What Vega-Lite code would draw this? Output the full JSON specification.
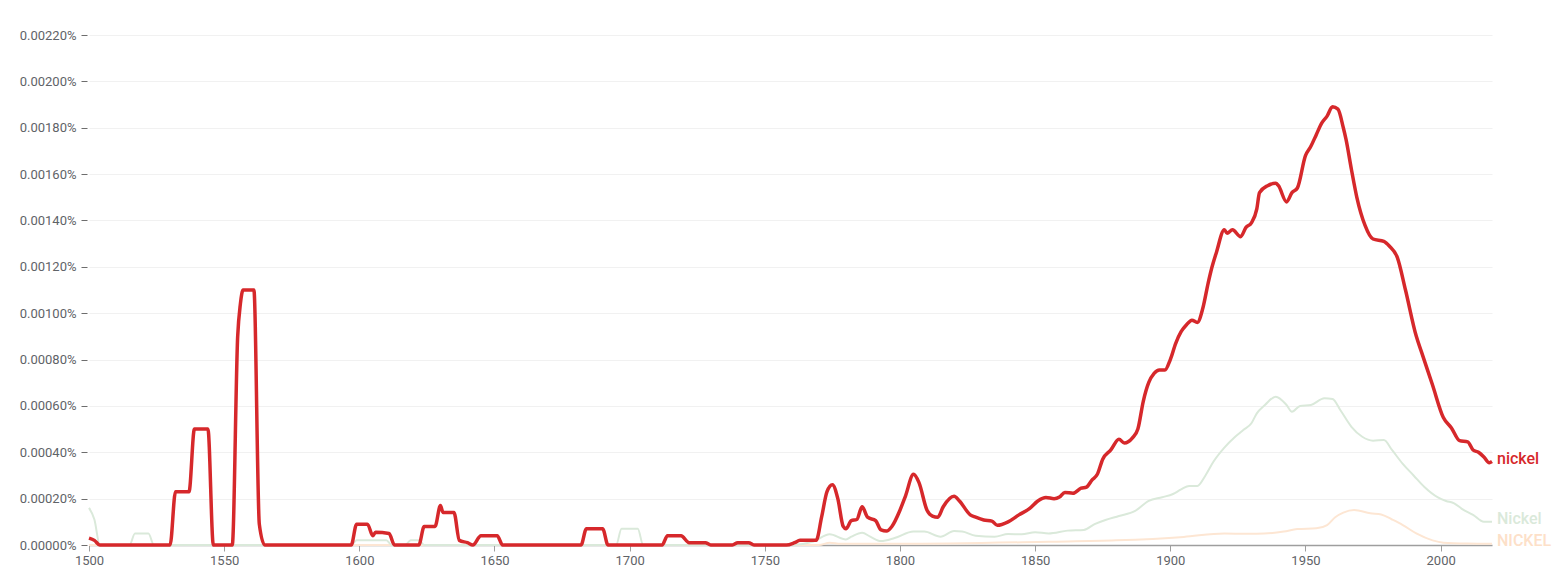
{
  "$schema": "https://vega.github.io/schema/vega-lite/v6.json",
  "width": 1403,
  "height": 510,
  "autosize": {"type": "none"},
  "padding": {"left": 89, "top": 35, "right": 72, "bottom": 28},
  "background": "white",
  "config": {
    "view": {"stroke": null},
    "font": "Roboto",
    "axis": {"labelFont": "Roboto", "labelColor": "#5f6368", "labelFontSize": 13}
  },
  "datasets": {
    "ngram": [
      {"year": 1500, "series": "nickel", "v": 0.00003},
      {"year": 1502, "series": "nickel", "v": 0.00002},
      {"year": 1504, "series": "nickel", "v": 0},
      {"year": 1530, "series": "nickel", "v": 0},
      {"year": 1532, "series": "nickel", "v": 0.00023},
      {"year": 1537, "series": "nickel", "v": 0.00023},
      {"year": 1539, "series": "nickel", "v": 0.0005},
      {"year": 1544, "series": "nickel", "v": 0.0005},
      {"year": 1546, "series": "nickel", "v": 0},
      {"year": 1553, "series": "nickel", "v": 0},
      {"year": 1555, "series": "nickel", "v": 0.0009},
      {"year": 1556, "series": "nickel", "v": 0.00104},
      {"year": 1557, "series": "nickel", "v": 0.0011},
      {"year": 1561, "series": "nickel", "v": 0.0011},
      {"year": 1563, "series": "nickel", "v": 0.00009},
      {"year": 1565, "series": "nickel", "v": 0},
      {"year": 1597, "series": "nickel", "v": 0},
      {"year": 1599, "series": "nickel", "v": 0.00009},
      {"year": 1603, "series": "nickel", "v": 0.00009},
      {"year": 1605, "series": "nickel", "v": 0.00004},
      {"year": 1606, "series": "nickel", "v": 0.000055},
      {"year": 1611, "series": "nickel", "v": 0.00005},
      {"year": 1613, "series": "nickel", "v": 0},
      {"year": 1622, "series": "nickel", "v": 0},
      {"year": 1624, "series": "nickel", "v": 0.00008},
      {"year": 1628, "series": "nickel", "v": 0.00008},
      {"year": 1630, "series": "nickel", "v": 0.00017},
      {"year": 1631, "series": "nickel", "v": 0.00014},
      {"year": 1633, "series": "nickel", "v": 0.00014},
      {"year": 1635, "series": "nickel", "v": 0.00014},
      {"year": 1637, "series": "nickel", "v": 0.00002},
      {"year": 1640, "series": "nickel", "v": 0.00001},
      {"year": 1642, "series": "nickel", "v": 0},
      {"year": 1645, "series": "nickel", "v": 0.00004},
      {"year": 1651, "series": "nickel", "v": 0.00004},
      {"year": 1653, "series": "nickel", "v": 0},
      {"year": 1682, "series": "nickel", "v": 0},
      {"year": 1684, "series": "nickel", "v": 0.00007},
      {"year": 1690, "series": "nickel", "v": 0.00007},
      {"year": 1692, "series": "nickel", "v": 0},
      {"year": 1712, "series": "nickel", "v": 0},
      {"year": 1714, "series": "nickel", "v": 0.00004},
      {"year": 1719, "series": "nickel", "v": 0.00004},
      {"year": 1722, "series": "nickel", "v": 0.00001},
      {"year": 1728, "series": "nickel", "v": 0.00001},
      {"year": 1730, "series": "nickel", "v": 0},
      {"year": 1738, "series": "nickel", "v": 0},
      {"year": 1740, "series": "nickel", "v": 0.00001},
      {"year": 1744, "series": "nickel", "v": 0.00001},
      {"year": 1746, "series": "nickel", "v": 0},
      {"year": 1758, "series": "nickel", "v": 0},
      {"year": 1761, "series": "nickel", "v": 0.00001},
      {"year": 1763, "series": "nickel", "v": 0.00002},
      {"year": 1769, "series": "nickel", "v": 0.00002},
      {"year": 1771, "series": "nickel", "v": 0.00012},
      {"year": 1773, "series": "nickel", "v": 0.00023},
      {"year": 1775, "series": "nickel", "v": 0.00026},
      {"year": 1777, "series": "nickel", "v": 0.0002},
      {"year": 1779, "series": "nickel", "v": 0.00008},
      {"year": 1780, "series": "nickel", "v": 0.00007},
      {"year": 1782, "series": "nickel", "v": 0.000105},
      {"year": 1784, "series": "nickel", "v": 0.00011},
      {"year": 1786, "series": "nickel", "v": 0.000165},
      {"year": 1788, "series": "nickel", "v": 0.00012},
      {"year": 1791, "series": "nickel", "v": 0.000105},
      {"year": 1793, "series": "nickel", "v": 0.000065},
      {"year": 1795, "series": "nickel", "v": 0.00006},
      {"year": 1797, "series": "nickel", "v": 0.00008},
      {"year": 1800, "series": "nickel", "v": 0.00015},
      {"year": 1802, "series": "nickel", "v": 0.00021},
      {"year": 1805, "series": "nickel", "v": 0.000305},
      {"year": 1807, "series": "nickel", "v": 0.00027},
      {"year": 1810, "series": "nickel", "v": 0.00015},
      {"year": 1812, "series": "nickel", "v": 0.000125},
      {"year": 1814, "series": "nickel", "v": 0.00012},
      {"year": 1816, "series": "nickel", "v": 0.000165},
      {"year": 1820, "series": "nickel", "v": 0.00021},
      {"year": 1822, "series": "nickel", "v": 0.00019},
      {"year": 1826, "series": "nickel", "v": 0.00013},
      {"year": 1828, "series": "nickel", "v": 0.00012},
      {"year": 1831, "series": "nickel", "v": 0.000108},
      {"year": 1834, "series": "nickel", "v": 0.000103},
      {"year": 1836, "series": "nickel", "v": 0.000085},
      {"year": 1840, "series": "nickel", "v": 0.0001},
      {"year": 1844, "series": "nickel", "v": 0.00013},
      {"year": 1848, "series": "nickel", "v": 0.000158},
      {"year": 1851, "series": "nickel", "v": 0.00019},
      {"year": 1854, "series": "nickel", "v": 0.000205},
      {"year": 1857, "series": "nickel", "v": 0.0002},
      {"year": 1859, "series": "nickel", "v": 0.000207},
      {"year": 1861, "series": "nickel", "v": 0.000227},
      {"year": 1864, "series": "nickel", "v": 0.000223},
      {"year": 1867, "series": "nickel", "v": 0.000245},
      {"year": 1869, "series": "nickel", "v": 0.00025},
      {"year": 1871, "series": "nickel", "v": 0.00028},
      {"year": 1873, "series": "nickel", "v": 0.000305},
      {"year": 1875, "series": "nickel", "v": 0.00037},
      {"year": 1878, "series": "nickel", "v": 0.00041},
      {"year": 1881, "series": "nickel", "v": 0.000456},
      {"year": 1883, "series": "nickel", "v": 0.00044},
      {"year": 1886, "series": "nickel", "v": 0.000462},
      {"year": 1888, "series": "nickel", "v": 0.0005},
      {"year": 1890, "series": "nickel", "v": 0.00062},
      {"year": 1892, "series": "nickel", "v": 0.0007},
      {"year": 1894, "series": "nickel", "v": 0.00074},
      {"year": 1896, "series": "nickel", "v": 0.000755},
      {"year": 1898, "series": "nickel", "v": 0.000755},
      {"year": 1900, "series": "nickel", "v": 0.0008},
      {"year": 1902, "series": "nickel", "v": 0.00087},
      {"year": 1904, "series": "nickel", "v": 0.00092},
      {"year": 1906, "series": "nickel", "v": 0.00095},
      {"year": 1908, "series": "nickel", "v": 0.00097},
      {"year": 1910, "series": "nickel", "v": 0.00096},
      {"year": 1912, "series": "nickel", "v": 0.00102},
      {"year": 1914, "series": "nickel", "v": 0.00113},
      {"year": 1915, "series": "nickel", "v": 0.00118},
      {"year": 1917, "series": "nickel", "v": 0.00126},
      {"year": 1920, "series": "nickel", "v": 0.00136},
      {"year": 1921, "series": "nickel", "v": 0.001345},
      {"year": 1923, "series": "nickel", "v": 0.00136},
      {"year": 1926, "series": "nickel", "v": 0.00133},
      {"year": 1928, "series": "nickel", "v": 0.00137},
      {"year": 1930, "series": "nickel", "v": 0.00139},
      {"year": 1932, "series": "nickel", "v": 0.00145},
      {"year": 1933, "series": "nickel", "v": 0.00152},
      {"year": 1936, "series": "nickel", "v": 0.00155},
      {"year": 1939, "series": "nickel", "v": 0.00156},
      {"year": 1940, "series": "nickel", "v": 0.00155},
      {"year": 1943, "series": "nickel", "v": 0.00148},
      {"year": 1945, "series": "nickel", "v": 0.00152},
      {"year": 1947, "series": "nickel", "v": 0.00154},
      {"year": 1950, "series": "nickel", "v": 0.00168},
      {"year": 1952, "series": "nickel", "v": 0.00172},
      {"year": 1954, "series": "nickel", "v": 0.00177},
      {"year": 1956, "series": "nickel", "v": 0.00182},
      {"year": 1958, "series": "nickel", "v": 0.00185},
      {"year": 1960, "series": "nickel", "v": 0.00189},
      {"year": 1962, "series": "nickel", "v": 0.00188},
      {"year": 1964, "series": "nickel", "v": 0.0018},
      {"year": 1965, "series": "nickel", "v": 0.00175},
      {"year": 1967, "series": "nickel", "v": 0.00162},
      {"year": 1969, "series": "nickel", "v": 0.0015},
      {"year": 1972, "series": "nickel", "v": 0.00138},
      {"year": 1975, "series": "nickel", "v": 0.00132},
      {"year": 1979, "series": "nickel", "v": 0.00131},
      {"year": 1981, "series": "nickel", "v": 0.00129},
      {"year": 1984, "series": "nickel", "v": 0.00124},
      {"year": 1987, "series": "nickel", "v": 0.0011},
      {"year": 1991, "series": "nickel", "v": 0.0009},
      {"year": 1993, "series": "nickel", "v": 0.00083},
      {"year": 1997, "series": "nickel", "v": 0.00069},
      {"year": 2001, "series": "nickel", "v": 0.00055},
      {"year": 2004, "series": "nickel", "v": 0.000505},
      {"year": 2007, "series": "nickel", "v": 0.00045},
      {"year": 2010, "series": "nickel", "v": 0.000445},
      {"year": 2012, "series": "nickel", "v": 0.00041},
      {"year": 2014, "series": "nickel", "v": 0.0004},
      {"year": 2016, "series": "nickel", "v": 0.00038},
      {"year": 2018, "series": "nickel", "v": 0.000355},
      {"year": 2019, "series": "nickel", "v": 0.00036},

      {"year": 1500, "series": "Nickel", "v": 0.00016},
      {"year": 1502, "series": "Nickel", "v": 0.00011},
      {"year": 1504, "series": "Nickel", "v": 0},
      {"year": 1515, "series": "Nickel", "v": 0},
      {"year": 1517, "series": "Nickel", "v": 0.00005},
      {"year": 1522, "series": "Nickel", "v": 0.00005},
      {"year": 1524, "series": "Nickel", "v": 0},
      {"year": 1597, "series": "Nickel", "v": 0},
      {"year": 1599, "series": "Nickel", "v": 0.00002},
      {"year": 1610, "series": "Nickel", "v": 0.00002},
      {"year": 1612, "series": "Nickel", "v": 0},
      {"year": 1617, "series": "Nickel", "v": 0},
      {"year": 1619, "series": "Nickel", "v": 0.00002},
      {"year": 1622, "series": "Nickel", "v": 0.00002},
      {"year": 1624, "series": "Nickel", "v": 0},
      {"year": 1695, "series": "Nickel", "v": 0},
      {"year": 1697, "series": "Nickel", "v": 0.00007},
      {"year": 1703, "series": "Nickel", "v": 0.00007},
      {"year": 1705, "series": "Nickel", "v": 0},
      {"year": 1760, "series": "Nickel", "v": 0},
      {"year": 1768, "series": "Nickel", "v": 0.000015},
      {"year": 1774, "series": "Nickel", "v": 0.000046},
      {"year": 1780, "series": "Nickel", "v": 0.000024},
      {"year": 1782, "series": "Nickel", "v": 0.000036},
      {"year": 1786, "series": "Nickel", "v": 0.000053},
      {"year": 1789, "series": "Nickel", "v": 0.000036},
      {"year": 1793, "series": "Nickel", "v": 0.000017},
      {"year": 1798, "series": "Nickel", "v": 0.00003},
      {"year": 1805, "series": "Nickel", "v": 0.000058},
      {"year": 1809, "series": "Nickel", "v": 0.000058},
      {"year": 1815, "series": "Nickel", "v": 0.000036},
      {"year": 1820, "series": "Nickel", "v": 0.00006},
      {"year": 1823, "series": "Nickel", "v": 0.000058},
      {"year": 1828, "series": "Nickel", "v": 0.00004},
      {"year": 1835, "series": "Nickel", "v": 0.000036},
      {"year": 1840, "series": "Nickel", "v": 0.000047},
      {"year": 1845, "series": "Nickel", "v": 0.000046},
      {"year": 1850, "series": "Nickel", "v": 0.000055},
      {"year": 1855, "series": "Nickel", "v": 0.00005},
      {"year": 1862, "series": "Nickel", "v": 0.000062},
      {"year": 1868, "series": "Nickel", "v": 0.000065},
      {"year": 1872, "series": "Nickel", "v": 0.00009},
      {"year": 1876, "series": "Nickel", "v": 0.000108},
      {"year": 1881, "series": "Nickel", "v": 0.000125},
      {"year": 1887, "series": "Nickel", "v": 0.000147},
      {"year": 1892, "series": "Nickel", "v": 0.00019},
      {"year": 1897, "series": "Nickel", "v": 0.000206},
      {"year": 1901, "series": "Nickel", "v": 0.00022},
      {"year": 1904, "series": "Nickel", "v": 0.00024},
      {"year": 1907, "series": "Nickel", "v": 0.000255},
      {"year": 1910, "series": "Nickel", "v": 0.000255},
      {"year": 1913, "series": "Nickel", "v": 0.0003},
      {"year": 1916, "series": "Nickel", "v": 0.00036},
      {"year": 1920, "series": "Nickel", "v": 0.00042},
      {"year": 1924, "series": "Nickel", "v": 0.000467},
      {"year": 1927, "series": "Nickel", "v": 0.000496},
      {"year": 1930, "series": "Nickel", "v": 0.000525},
      {"year": 1932, "series": "Nickel", "v": 0.000568},
      {"year": 1935, "series": "Nickel", "v": 0.000604},
      {"year": 1939, "series": "Nickel", "v": 0.00064},
      {"year": 1943, "series": "Nickel", "v": 0.000604},
      {"year": 1945, "series": "Nickel", "v": 0.000575},
      {"year": 1948, "series": "Nickel", "v": 0.0006},
      {"year": 1952, "series": "Nickel", "v": 0.000604},
      {"year": 1957, "series": "Nickel", "v": 0.000633},
      {"year": 1960, "series": "Nickel", "v": 0.00063},
      {"year": 1963, "series": "Nickel", "v": 0.00058},
      {"year": 1967, "series": "Nickel", "v": 0.00051},
      {"year": 1971, "series": "Nickel", "v": 0.000467},
      {"year": 1975, "series": "Nickel", "v": 0.00045},
      {"year": 1979, "series": "Nickel", "v": 0.000453},
      {"year": 1982, "series": "Nickel", "v": 0.00041},
      {"year": 1986, "series": "Nickel", "v": 0.00035},
      {"year": 1990, "series": "Nickel", "v": 0.0003},
      {"year": 1994, "series": "Nickel", "v": 0.00025},
      {"year": 1999, "series": "Nickel", "v": 0.000205},
      {"year": 2002, "series": "Nickel", "v": 0.00019},
      {"year": 2005, "series": "Nickel", "v": 0.00018},
      {"year": 2008, "series": "Nickel", "v": 0.000155},
      {"year": 2012, "series": "Nickel", "v": 0.00013},
      {"year": 2016, "series": "Nickel", "v": 0.0001},
      {"year": 2019, "series": "Nickel", "v": 0.0001},

      {"year": 1500, "series": "NICKEL", "v": 0},
      {"year": 1770, "series": "NICKEL", "v": 0},
      {"year": 1774, "series": "NICKEL", "v": 0.00001},
      {"year": 1778, "series": "NICKEL", "v": 0.000005},
      {"year": 1800, "series": "NICKEL", "v": 0.000005},
      {"year": 1855, "series": "NICKEL", "v": 0.000014},
      {"year": 1880, "series": "NICKEL", "v": 0.00002},
      {"year": 1905, "series": "NICKEL", "v": 0.000035},
      {"year": 1920, "series": "NICKEL", "v": 0.00005},
      {"year": 1932, "series": "NICKEL", "v": 0.000048},
      {"year": 1942, "series": "NICKEL", "v": 0.000058},
      {"year": 1947, "series": "NICKEL", "v": 0.000069},
      {"year": 1954, "series": "NICKEL", "v": 0.000072},
      {"year": 1958, "series": "NICKEL", "v": 0.000086},
      {"year": 1961, "series": "NICKEL", "v": 0.00012},
      {"year": 1964, "series": "NICKEL", "v": 0.00014},
      {"year": 1968, "series": "NICKEL", "v": 0.000151},
      {"year": 1974, "series": "NICKEL", "v": 0.000137},
      {"year": 1978, "series": "NICKEL", "v": 0.000132},
      {"year": 1982, "series": "NICKEL", "v": 0.00011},
      {"year": 1986, "series": "NICKEL", "v": 0.000086},
      {"year": 1991, "series": "NICKEL", "v": 0.00005},
      {"year": 1997, "series": "NICKEL", "v": 0.00002},
      {"year": 2001, "series": "NICKEL", "v": 0.00001},
      {"year": 2010, "series": "NICKEL", "v": 0.000006},
      {"year": 2019, "series": "NICKEL", "v": 0.000005}
    ]
  },
  "data": {"name": "ngram"},
  "encoding": {
    "x": {
      "field": "year", "type": "quantitative",
      "scale": {"domain": [1500, 2019], "nice": false, "zero": false},
      "axis": {
        "title": null, "values": [1500, 1550, 1600, 1650, 1700, 1750, 1800, 1850, 1900, 1950, 2000],
        "format": "d", "grid": false, "domainColor": "#9e9e9e", "domainWidth": 1.5,
        "tickColor": "#9e9e9e", "tickSize": 6, "labelPadding": 3, "labelFlush": false
      }
    },
    "y": {
      "field": "v", "type": "quantitative",
      "scale": {"domain": [0, 0.0022], "nice": false},
      "axis": {
        "title": null,
        "values": [0, 0.0002, 0.0004, 0.0006, 0.0008, 0.001, 0.0012, 0.0014, 0.0016, 0.0018, 0.002, 0.0022],
        "labelExpr": "format(datum.value, '.5f') + '%'",
        "domain": false, "grid": true, "gridColor": "#f1f1f1", "gridWidth": 1,
        "tickColor": "#6d6d6d", "tickSize": 6, "offset": 2, "labelPadding": 5, "labelFlush": false
      }
    }
  },
  "layer": [
    {
      "transform": [{"filter": "datum.series === 'NICKEL'"}],
      "mark": {"type": "line", "interpolate": "monotone", "color": "#fde6d3", "strokeWidth": 2}
    },
    {
      "transform": [{"filter": "datum.series === 'Nickel'"}],
      "mark": {"type": "line", "interpolate": "monotone", "color": "#dae9da", "strokeWidth": 2}
    },
    {
      "transform": [{"filter": "datum.series === 'nickel'"}],
      "mark": {"type": "line", "interpolate": "monotone", "color": "#d6282b", "strokeWidth": 3.5}
    },
    {
      "transform": [{"filter": "datum.year === 2019"}],
      "mark": {"type": "text", "align": "left", "baseline": "middle", "dx": 5, "dy": -3, "fontSize": 16, "fontWeight": 500, "font": "Roboto"},
      "encoding": {
        "text": {"field": "series"},
        "color": {
          "field": "series", "type": "nominal",
          "scale": {"domain": ["nickel", "Nickel", "NICKEL"], "range": ["#d6282b", "#dae9da", "#fde0c8"]},
          "legend": null
        }
      }
    }
  ]
}
